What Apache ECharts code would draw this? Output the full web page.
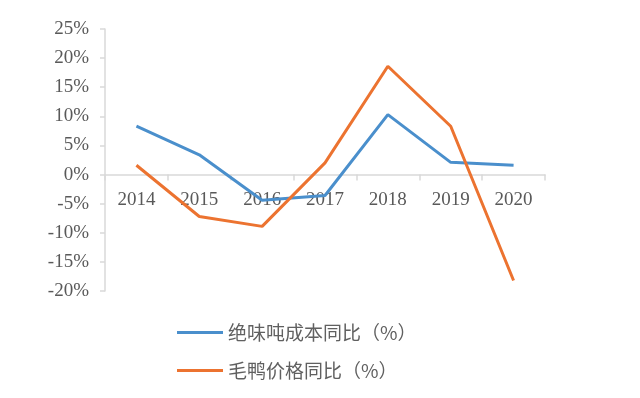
<!DOCTYPE html>
<html>
<head>
<meta charset="utf-8">
<script src="https://cdn.jsdelivr.net/npm/echarts@6/dist/echarts.min.js"></script>
<style>
  html, body { margin: 0; padding: 0; background: #fff; }
  #chart { width: 640px; height: 398px; }
</style>
</head>
<body>
<div id="chart"></div>
<script>
const years = ['2014', '2015', '2016', '2017', '2018', '2019', '2020']
const costYoY = [8.3, 3.4, -4.4, -3.6, 10.3, 2.1, 1.6]
const duckYoY = [1.6, -7.2, -8.9, 2.0, 18.6, 8.3, -18.2]
const names = ['绝味吨成本同比（%）', '毛鸭价格同比（%）']
const colors = ['#4a8fcc', '#ec7330']

const axisFont = { fontFamily: 'Liberation Serif', fontSize: 19, color: '#595959' }
const legendFont = { fontFamily: 'Noto Sans CJK SC', fontSize: 19, color: '#606060' }

// grid height 262px, zero sits 20/45 of it above the bottom edge
const zeroOffset = -262 * 20 / 45

const chart = echarts.init(document.getElementById('chart'))
chart.setOption({
  animation: false,
  grid: { left: 105, right: 95, top: 29, bottom: 107 },
  legend: names.map((n, i) => ({
    data: [n], left: 172, top: 318 + i * 38, icon: 'rect',
    itemWidth: 46, itemHeight: 3, itemGap: 0, textStyle: legendFont,
  })),
  xAxis: {
    type: 'category', data: years, position: 'bottom', offset: zeroOffset,
    axisLine: { onZero: false, lineStyle: { color: '#d9d9d9', width: 1.5 } },
    axisTick: { show: true, length: 6, lineStyle: { color: '#d9d9d9', width: 1.5 } },
    axisLabel: Object.assign({ margin: 16 }, axisFont),
  },
  yAxis: {
    type: 'value', min: -20, max: 25, interval: 5,
    axisLine: { show: true, lineStyle: { color: '#d9d9d9', width: 1.5 } },
    axisTick: { show: true, length: 5, lineStyle: { color: '#d9d9d9', width: 1.5 } },
    splitLine: { show: false },
    axisLabel: Object.assign({ margin: 16, formatter: v => v + '%' }, axisFont),
  },
  series: [costYoY, duckYoY].map((d, i) => ({
    name: names[i], type: 'line', data: d, showSymbol: false, symbol: 'none',
    itemStyle: { color: colors[i] }, lineStyle: { color: colors[i], width: 3 },
  })),
})
</script>
</body>
</html>
